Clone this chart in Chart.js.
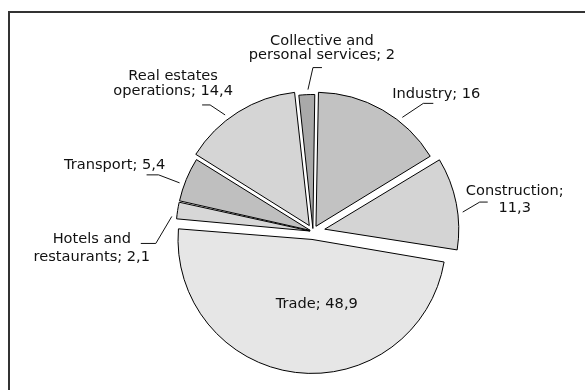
<!DOCTYPE html>
<html>
<head>
<meta charset="utf-8">
<script src="https://cdn.jsdelivr.net/npm/chart.js@4.4.1/dist/chart.umd.min.js"></script>
<style>
  html, body { margin: 0; padding: 0; background: #fff; }
  canvas { display: block; }
</style>
</head>
<body>
<canvas id="chart" width="585" height="390"></canvas>
<script>
const sectors = ['Industry', 'Construction', 'Trade', 'Hotels and restaurants', 'Transport', 'Real estates operations', 'Collective and personal services'];
const shares = [16, 11.3, 48.9, 2.1, 5.4, 14.4, 2];

const fills = ['#c2c2c2', '#d4d4d4', '#e6e6e6', '#d7d7d7', '#bfbfbf', '#d5d5d5', '#a9a9a9'];
// how far each slice is pulled out, px
const explode = [6, 12, 8, 3, 3, 7, 3];
const pieRadius = 134;
const leaderGap = 5;

// label placement: "at" is the position along the arc (0..1), elbow/tail shape the leader,
// text is the offset of the first baseline from the leader end
const calloutLayout = [
  { at: 0.65, elbow: [21, -14], tail: 10, text: [3, -5] },
  { at: 0.60, elbow: [17, -10], tail: 8, text: [27, -7.5], lh: 17.5, breakAfter: 1 },
  { inside: true, at: 0.435, dist: 64, text: [0, 5] },
  { at: 0.13, elbow: [-16, 27], tail: -15, text: [-49, 0], lh: 17.5, breakAfter: 2 },
  { at: 0.38, elbow: [-21, -8], tail: -12, text: [-32, -6] },
  { at: 0.40, elbow: [-15, -10], tail: -8, text: [-29, -25], lh: 15, breakAfter: 2 },
  { at: 0.58, elbow: [5, -22], tail: 9, text: [0, -23], lh: 14.5, breakAfter: 2 }
];

function labelLines(i, breakAfter) {
  const words = (sectors[i] + '; ' + String(shares[i]).replace('.', ',')).split(' ');
  if (!breakAfter) return [words.join(' ')];
  return [words.slice(0, breakAfter).join(' '), words.slice(breakAfter).join(' ')];
}

// open frame around the chart (left and top edges)
const frame = {
  id: 'frame',
  beforeDraw(chart) {
    const ctx = chart.ctx;
    ctx.save();
    ctx.fillStyle = '#fff';
    ctx.fillRect(0, 0, chart.width, chart.height);
    ctx.strokeStyle = '#333';
    ctx.lineWidth = 2;
    ctx.beginPath();
    ctx.moveTo(9, chart.height);
    ctx.lineTo(9, 12);
    ctx.lineTo(chart.width, 12);
    ctx.stroke();
    ctx.restore();
  }
};

// Chart.js grows small exploded arcs by their offset; keep every slice the same radius
const evenRadius = {
  id: 'evenRadius',
  afterDatasetUpdate(chart, { meta }) {
    meta.data.forEach((arc, i) => {
      const fix = 1 - Math.sin(Math.min(Math.PI, arc.circumference));
      arc.outerRadius -= explode[i] * fix;
    });
  }
};

const callouts = {
  id: 'callouts',
  afterDatasetsDraw(chart) {
    const ctx = chart.ctx;
    const arcs = chart.getDatasetMeta(0).data;
    ctx.save();
    ctx.font = '14.6px "DejaVu Sans"';
    ctx.fillStyle = '#111';
    ctx.strokeStyle = '#111';
    ctx.lineWidth = 1;
    ctx.textAlign = 'center';
    ctx.textBaseline = 'alphabetic';
    arcs.forEach((arc, i) => {
      const c = calloutLayout[i];
      const mid = (arc.startAngle + arc.endAngle) / 2;
      const vx = arc.x + Math.cos(mid) * explode[i];
      const vy = arc.y + Math.sin(mid) * explode[i];
      const a = arc.startAngle + (arc.endAngle - arc.startAngle) * c.at;
      let tx, ty;
      if (c.inside) {
        tx = vx + Math.cos(a) * c.dist;
        ty = vy + Math.sin(a) * c.dist;
      } else {
        const d = pieRadius + leaderGap;
        const ax = vx + Math.cos(a) * d;
        const ay = vy + Math.sin(a) * d;
        const ex = ax + c.elbow[0];
        const ey = ay + c.elbow[1];
        tx = ex + c.tail;
        ty = ey;
        ctx.beginPath();
        ctx.moveTo(ax, ay);
        ctx.lineTo(ex, ey);
        ctx.lineTo(tx, ty);
        ctx.stroke();
      }
      labelLines(i, c.breakAfter).forEach((s, k) => {
        ctx.fillText(s, tx + c.text[0], ty + c.text[1] + k * (c.lh || 16));
      });
    });
    ctx.restore();
  }
};

new Chart(document.getElementById('chart'), {
  type: 'pie',
  data: {
    labels: sectors,
    datasets: [{
      data: shares,
      backgroundColor: fills,
      borderColor: '#000',
      borderWidth: 1,
      borderJoinStyle: 'miter',
      offset: explode.map(v => v * 4)
    }]
  },
  options: {
    responsive: false,
    animation: false,
    events: [],
    rotation: 1,
    radius: pieRadius,
    layout: { padding: { left: 41, top: 73, right: 0, bottom: 0 } },
    plugins: {
      legend: { display: false },
      tooltip: { enabled: false }
    }
  },
  plugins: [frame, evenRadius, callouts]
});
</script>
</body>
</html>
